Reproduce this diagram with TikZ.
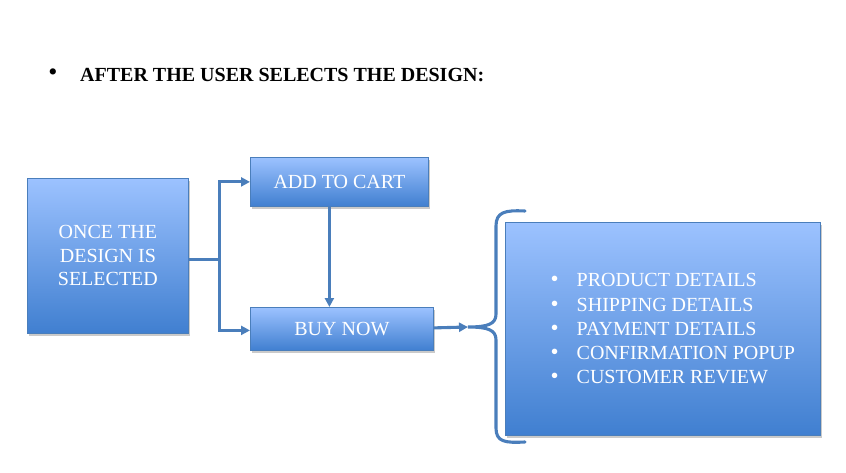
\documentclass[tikz,border=0pt]{standalone}
\usepackage{fontspec}
\setmainfont{Liberation Serif}
\usetikzlibrary{arrows.meta,shadows,calc}
\definecolor{boxtop}{RGB}{156,194,255}
\definecolor{boxbot}{RGB}{64,127,208}
\definecolor{boxline}{RGB}{74,126,187}
\definecolor{conn}{RGB}{74,126,187}
\tikzset{
  bluebox/.style={draw=boxline, line width=0.8pt, top color=boxtop, bottom color=boxbot,
    rectangle, anchor=north west, inner sep=0pt, text=white, align=center,
    font=\fontsize{20}{23.5}\selectfont,
    drop shadow={shadow xshift=2pt, shadow yshift=-2.5pt, opacity=0.35, fill=black!60}},
  conline/.style={draw=conn, line width=3.1pt},
  arr/.style={conline, -{Triangle[length=9pt,width=9pt]}},
}
\newcommand{\listitem}[1]{\hspace*{20pt}\makebox[26pt][l]{\fontsize{23}{24.3}\selectfont\textbullet}#1}
\begin{document}
\begin{tikzpicture}[x=1pt,y=-1pt]
\useasboundingbox (0,0) rectangle (846,473);
% title
\node[anchor=base west, font=\fontsize{20}{24}\selectfont\bfseries, inner sep=0pt] (title) at (80,82) {AFTER THE USER SELECTS THE DESIGN:};
\node[anchor=center, inner sep=0pt, font=\fontsize{26}{24}\selectfont] (tbul) at (53,75) {\textbullet};
% boxes
\node[bluebox, minimum width=161pt, minimum height=155pt] (once) at (27,178) {ONCE THE\\DESIGN IS\\SELECTED};
\node[bluebox, minimum width=178pt, minimum height=49pt] (add) at (250,157) {ADD TO CART};
\node[bluebox, minimum width=183pt, minimum height=43pt] (buy) at (250,307) {BUY NOW};
\node[bluebox, minimum width=315pt, minimum height=213pt, font=\fontsize{20}{24.3}\selectfont, align=left] (list) at (505,222) {%
\listitem{PRODUCT DETAILS}\\
\listitem{SHIPPING DETAILS}\\
\listitem{PAYMENT DETAILS}\\
\listitem{CONFIRMATION POPUP}\\
\listitem{CUSTOMER REVIEW}};
% connectors
\coordinate (j) at ($([yshift=-4pt]once.east)+(31pt,0)$);
\draw[conline] ([yshift=-4pt]once.east) -- (j);
\draw[arr] (j) |- (add.west);
\draw[arr] (j) |- ([yshift=-1.5pt]buy.west);
\draw[arr] ([xshift=-10pt]add.south) -- ([xshift=-10pt]add.south |- buy.north);
\coordinate (tip) at (468,327);
\draw[arr] ([yshift=1pt]buy.east) -- (tip);
% brace
\draw[conline, line cap=round] (525,211) .. controls (505,210) and (496,212) .. (496,226)
  -- (496,314) .. controls (496,324) and (488,327) .. (tip)
  .. controls (488,327) and (496,330) .. (496,340)
  -- (496,428) .. controls (496,442) and (505,443) .. (525,442);
\end{tikzpicture}
\end{document}
